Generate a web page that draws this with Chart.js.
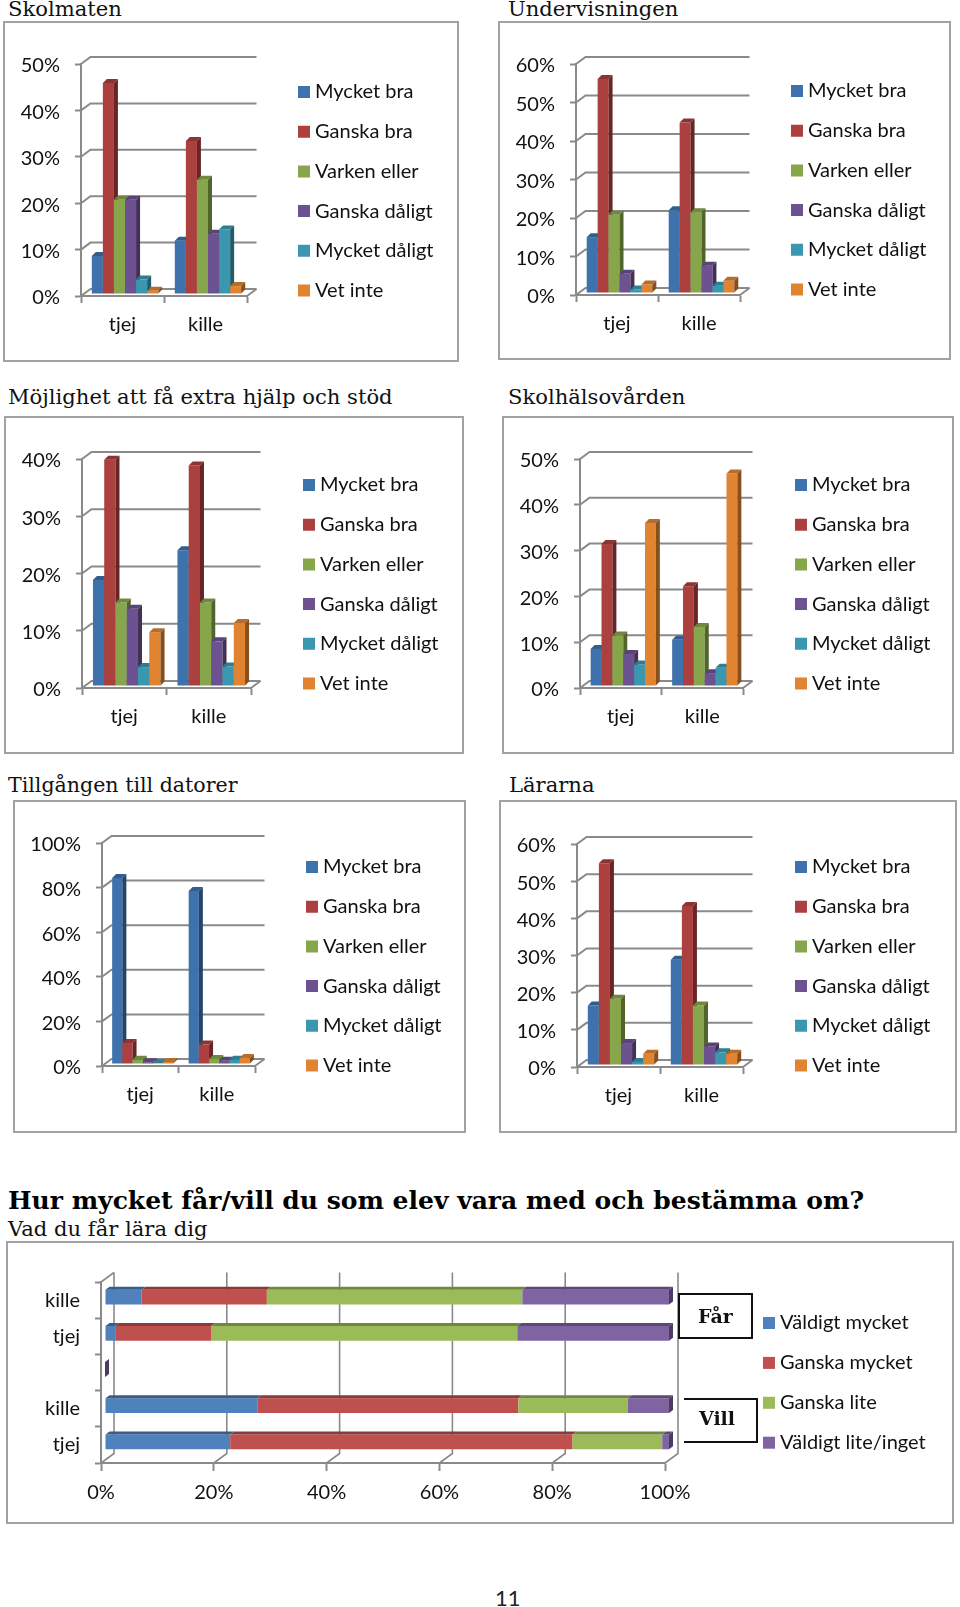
<!DOCTYPE html>
<html lang="sv">
<head>
<meta charset="utf-8">
<title>Skolenkät</title>
<script src="https://cdn.jsdelivr.net/npm/chart.js@4/dist/chart.umd.js"></script>
<style>
  html, body { margin: 0; padding: 0; background: #fff; }
  body { position: relative; width: 960px; height: 1607px; overflow: hidden; }
  canvas { position: absolute; outline: 2px solid #a2a2a2; outline-offset: -1px; }
  .rubrik { position: absolute; font-family: "DejaVu Serif", serif; font-size: 21.1px; line-height: 24px; color: #111; white-space: nowrap; }
  .stor { font-weight: bold; font-size: 25px; line-height: 28px; color: #000; }
  .ruta { position: absolute; box-sizing: border-box; background: #fff; border: 2px solid #111; font-family: "DejaVu Serif", serif; font-weight: bold; font-size: 19px; text-align: center; color: #111; }
  .sida { position: absolute; font-family: Lato, sans-serif; font-size: 22px; line-height: 24px; color: #222; }
</style>
</head>
<body>
<script>
const kon = ['tjej', 'kille'];
const svar = ['Mycket bra', 'Ganska bra', 'Varken eller', 'Ganska dåligt', 'Mycket dåligt', 'Vet inte'];
const svarFarger = ['#3e72ad', '#ab403e', '#87a64b', '#6d5291', '#3a97b0', '#e08432'];

const skolmatenTjej = [8.2, 45.5, 20.3, 20.3, 3.1, 0.7];
const skolmatenKille = [11.5, 33, 24.6, 13, 13.9, 1.7];
const undervisningTjej = [14.5, 55.6, 20.3, 5, 0.9, 2.2];
const undervisningKille = [21.5, 44.3, 21, 7.1, 1.9, 3.2];
const hjalpTjej = [18.5, 39.5, 14.6, 13.5, 3.3, 9.4];
const hjalpKille = [23.7, 38.5, 14.6, 7.8, 3.4, 11];
const halsaTjej = [8.1, 31, 11, 7, 4.7, 35.6];
const halsaKille = [10.1, 21.8, 12.9, 2.8, 4, 46.4];
const datorTjej = [83.4, 9.4, 1.9, 0.8, 0.3, 0.9];
const datorKille = [77.6, 8.7, 2.2, 1.5, 1.9, 2.7];
const lararTjej = [16, 54.3, 17.8, 5.9, 0.8, 3];
const lararKille = [28.3, 42.8, 16, 5, 3.4, 3];

const radNamn = ['kille', 'tjej', '', 'kille', 'tjej'];
const bestamma = ['Väldigt mycket', 'Ganska mycket', 'Ganska lite', 'Väldigt lite/inget'];
const bestammaFarger = ['#4f81bd', '#c0504d', '#9bbb59', '#8064a2'];
const valdigtMycket = [6.5, 1.8, 0, 27, 22.2];
const ganskaMycket = [22.2, 17, 0, 46.3, 60.7];
const ganskaLite = [45.3, 54.3, 0, 19.4, 15.9];
const valdigtLite = [26, 26.9, 0, 7.3, 1.2];

const LINJE = '#8a8a8a';
const TEXT = '#111';
const FONT = { family: 'Lato, sans-serif', size: 20 };

function morkna(hex, f) {
  const n = parseInt(hex.slice(1), 16);
  const r = Math.round((n >> 16) * f);
  const g = Math.round(((n >> 8) & 255) * f);
  const b = Math.round((n & 255) * f);
  return `rgb(${r},${g},${b})`;
}

function yta(ctx, punkter, farg) {
  ctx.beginPath();
  punkter.forEach((p, i) => i ? ctx.lineTo(p[0], p[1]) : ctx.moveTo(p[0], p[1]));
  ctx.closePath();
  ctx.fillStyle = farg;
  ctx.fill();
}

function sidor(chart, meta, index, o) {
  const ctx = chart.ctx;
  const farg = chart.data.datasets[index].backgroundColor;
  const liggande = chart.options.indexAxis === 'y';
  const sist = index === chart.data.datasets.length - 1;
  meta.data.forEach(b => {
    const v = liggande ? Math.min(b.x, b.base) : b.x - b.width / 2;
    const h = liggande ? Math.max(b.x, b.base) : b.x + b.width / 2;
    const top = liggande ? b.y - b.height / 2 : b.y;
    const bot = liggande ? b.y + b.height / 2 : b.base;
    if (h > v) {
      yta(ctx, [[v, top], [v + o.sideW, top - o.topH], [h + o.sideW, top - o.topH], [h, top]], morkna(farg, o.topShade));
    }
    if (!liggande || sist) {
      yta(ctx, [[h, top], [h + o.sideW, top - o.topH], [h + o.sideW, bot - o.topH], [h, bot]], morkna(farg, 0.6));
    }
  });
}

// fake 3D: walls behind the bars and side/top faces on each bar
const djup = {
  id: 'djup',
  afterLayout(chart, args, o) {
    const l = chart.legend;
    const p = chart.options.plugins.legend.labels.padding;
    l.left = o.legendX - p + 5;
    l.right = l.left + 260;
    l.top = o.legendY - p - 4;
    l.bottom = l.top + 320;
  },
  beforeDatasetsDraw(chart, args, o) {
    const ctx = chart.ctx;
    const a = chart.chartArea;
    const liggande = chart.options.indexAxis === 'y';
    const s = chart.scales[liggande ? 'x' : 'y'];
    ctx.save();
    ctx.strokeStyle = LINJE;
    ctx.lineWidth = o.wallLine;
    s.ticks.forEach(t => {
      const v = s.getPixelForValue(t.value);
      ctx.beginPath();
      if (liggande) {
        ctx.moveTo(v, a.bottom);
        ctx.lineTo(v + o.wallX, a.bottom - o.wallY);
        ctx.lineTo(v + o.wallX, a.top - o.wallY);
      } else {
        ctx.moveTo(a.left, v);
        ctx.lineTo(a.left + o.wallX, v - o.wallY);
        ctx.lineTo(a.right + o.wallX, v - o.wallY);
      }
      ctx.stroke();
    });
    ctx.beginPath();
    if (liggande) {
      ctx.moveTo(a.left, a.top);
      ctx.lineTo(a.left + o.wallX, a.top - o.wallY);
    } else {
      ctx.moveTo(a.right, a.bottom);
      ctx.lineTo(a.right + o.wallX, a.bottom - o.wallY);
    }
    ctx.stroke();
    ctx.restore();

    // first series first, so each bar covers the side of the one before it
    ctx.save();
    ctx.translate(o.barX, -o.barY);
    chart.data.datasets.forEach((d, i) => {
      const meta = chart.getDatasetMeta(i);
      meta.controller.draw();
      sidor(chart, meta, i, o);
    });
    ctx.restore();
    return false;
  }
};

function skapaCanvas(r) {
  const c = document.createElement('canvas');
  c.width = r.w;
  c.height = r.h;
  c.style.left = r.x + 'px';
  c.style.top = r.y + 'px';
  document.body.appendChild(c);
  return c;
}

function staplar(r, tjej, kille, yMax, steg) {
  new Chart(skapaCanvas(r), {
    type: 'bar',
    plugins: [djup],
    data: {
      labels: kon,
      datasets: svar.map((namn, i) => ({
        label: namn,
        data: [tjej[i], kille[i]],
        backgroundColor: svarFarger[i],
        borderWidth: 0,
        categoryPercentage: 0.8,
        barPercentage: 1
      }))
    },
    options: {
      responsive: false,
      animation: false,
      layout: { padding: { top: r.py - r.y, right: r.x + r.w - r.pr, left: 0, bottom: 0 } },
      plugins: {
        tooltip: { enabled: false },
        legend: {
          position: 'chartArea',
          align: 'start',
          labels: { usePointStyle: true, pointStyle: 'rect', boxWidth: 2, boxHeight: 12, padding: 19.7, font: FONT, color: TEXT }
        },
        djup: { wallX: 9.5, wallY: 7, wallLine: 2, barX: 2.5, barY: 2, sideW: 4, topH: 4, topShade: 0.82, legendX: r.lx - r.x, legendY: r.ly - r.y }
      },
      scales: {
        x: {
          afterFit: s => { s.height = r.y + r.h - r.pb; },
          border: { color: LINJE, width: 2 },
          grid: { drawOnChartArea: false, tickLength: 7, tickColor: LINJE, tickWidth: 2 },
          ticks: { font: FONT, color: TEXT, padding: 10, maxRotation: 0 }
        },
        y: {
          min: 0,
          max: yMax,
          afterFit: s => { s.width = r.px - r.x; },
          border: { color: LINJE, width: 2 },
          grid: { drawOnChartArea: false, tickLength: 6, tickColor: LINJE, tickWidth: 2 },
          ticks: { font: FONT, color: TEXT, padding: 15, labelOffset: 2, stepSize: steg, callback: v => v + '%' }
        }
      }
    }
  });
}

function rubrik(text, x, baslinje, stor, storlek) {
  const d = document.createElement('div');
  d.className = stor ? 'rubrik stor' : 'rubrik';
  d.textContent = text;
  d.style.left = x + 'px';
  d.style.top = (baslinje - (stor ? 22 : 19.5)) + 'px';
  if (storlek) d.style.fontSize = storlek + 'px';
  document.body.appendChild(d);
}

rubrik('Skolmaten', 8, 16);
rubrik('Undervisningen', 508, 16);
rubrik('Möjlighet att få extra hjälp och stöd', 8, 404);
rubrik('Skolhälsovården', 508, 404);
rubrik('Tillgången till datorer', 8, 792, false, 20.55);
rubrik('Lärarna', 509, 792);
rubrik('Hur mycket får/vill du som elev vara med och bestämma om?', 8, 1209, true);
rubrik('Vad du får lära dig', 8, 1236);

staplar({ x: 4, y: 22, w: 454, h: 339, px: 81, pr: 247, py: 64, pb: 296, lx: 298, ly: 86 }, skolmatenTjej, skolmatenKille, 50, 10);
staplar({ x: 499, y: 22, w: 451, h: 337, px: 576, pr: 740, py: 64, pb: 295, lx: 791, ly: 85 }, undervisningTjej, undervisningKille, 60, 10);
staplar({ x: 5, y: 417, w: 458, h: 336, px: 82, pr: 251, py: 459, pb: 688, lx: 303, ly: 479 }, hjalpTjej, hjalpKille, 40, 10);
staplar({ x: 503, y: 417, w: 450, h: 336, px: 580, pr: 743, py: 459, pb: 688, lx: 795, ly: 479 }, halsaTjej, halsaKille, 50, 10);
staplar({ x: 14, y: 801, w: 451, h: 331, px: 102, pr: 255, py: 843, pb: 1066, lx: 306, ly: 861 }, datorTjej, datorKille, 100, 20);
staplar({ x: 500, y: 801, w: 456, h: 331, px: 577, pr: 743, py: 844, pb: 1067, lx: 795, ly: 861 }, lararTjej, lararKille, 60, 10);

const ram = { x: 7, y: 1242, w: 946, h: 281 };
const serier = [valdigtMycket, ganskaMycket, ganskaLite, valdigtLite];
new Chart(skapaCanvas(ram), {
  type: 'bar',
  plugins: [djup],
  data: {
    labels: radNamn,
    datasets: bestamma.map((namn, i) => ({
      label: namn,
      data: serier[i],
      backgroundColor: bestammaFarger[i],
      borderWidth: 0,
      categoryPercentage: 0.41,
      barPercentage: 1
    }))
  },
  options: {
    indexAxis: 'y',
    responsive: false,
    animation: false,
    layout: { padding: { top: 1282 - ram.y, right: ram.x + ram.w - 665, left: 0, bottom: 0 } },
    plugins: {
      tooltip: { enabled: false },
      legend: {
        position: 'chartArea',
        align: 'start',
        labels: { usePointStyle: true, pointStyle: 'rect', boxWidth: 2, boxHeight: 12, padding: 19.9, font: FONT, color: TEXT }
      },
      djup: { wallX: 13, wallY: 9.5, wallLine: 1.6, barX: 4, barY: 3, sideW: 4, topH: 3, topShade: 0.72, legendX: 763 - ram.x, legendY: 1317 - ram.y }
    },
    scales: {
      x: {
        stacked: true,
        min: 0,
        max: 100,
        afterFit: s => { s.height = ram.y + ram.h - 1463; },
        border: { color: LINJE, width: 2 },
        grid: { drawOnChartArea: false, tickLength: 8, tickColor: LINJE, tickWidth: 2 },
        ticks: { font: FONT, color: TEXT, padding: 10, stepSize: 20, maxRotation: 0, callback: v => v + '%' }
      },
      y: {
        stacked: true,
        afterFit: s => { s.width = 101 - ram.x; },
        border: { color: LINJE, width: 2 },
        grid: { drawOnChartArea: false, tickLength: 6, tickColor: LINJE, tickWidth: 2 },
        ticks: { font: FONT, color: TEXT, padding: 15, autoSkip: false }
      }
    }
  }
});

function ruta(text, x, y, w, h, utanVanster, radhojd) {
  const d = document.createElement('div');
  d.className = 'ruta';
  d.textContent = text;
  d.style.cssText = `left:${x}px;top:${y}px;width:${w}px;height:${h}px;line-height:${radhojd}px;` + (utanVanster ? 'border-left:0;padding-right:6px;' : '');
  document.body.appendChild(d);
}
ruta('Får', 678, 1293, 75, 46, false, 42);
ruta('Vill', 684, 1398, 74, 45, true, 37);

const sida = document.createElement('div');
sida.className = 'sida';
sida.textContent = '11';
sida.style.left = '495px';
sida.style.top = '1586px';
document.body.appendChild(sida);
</script>
</body>
</html>
